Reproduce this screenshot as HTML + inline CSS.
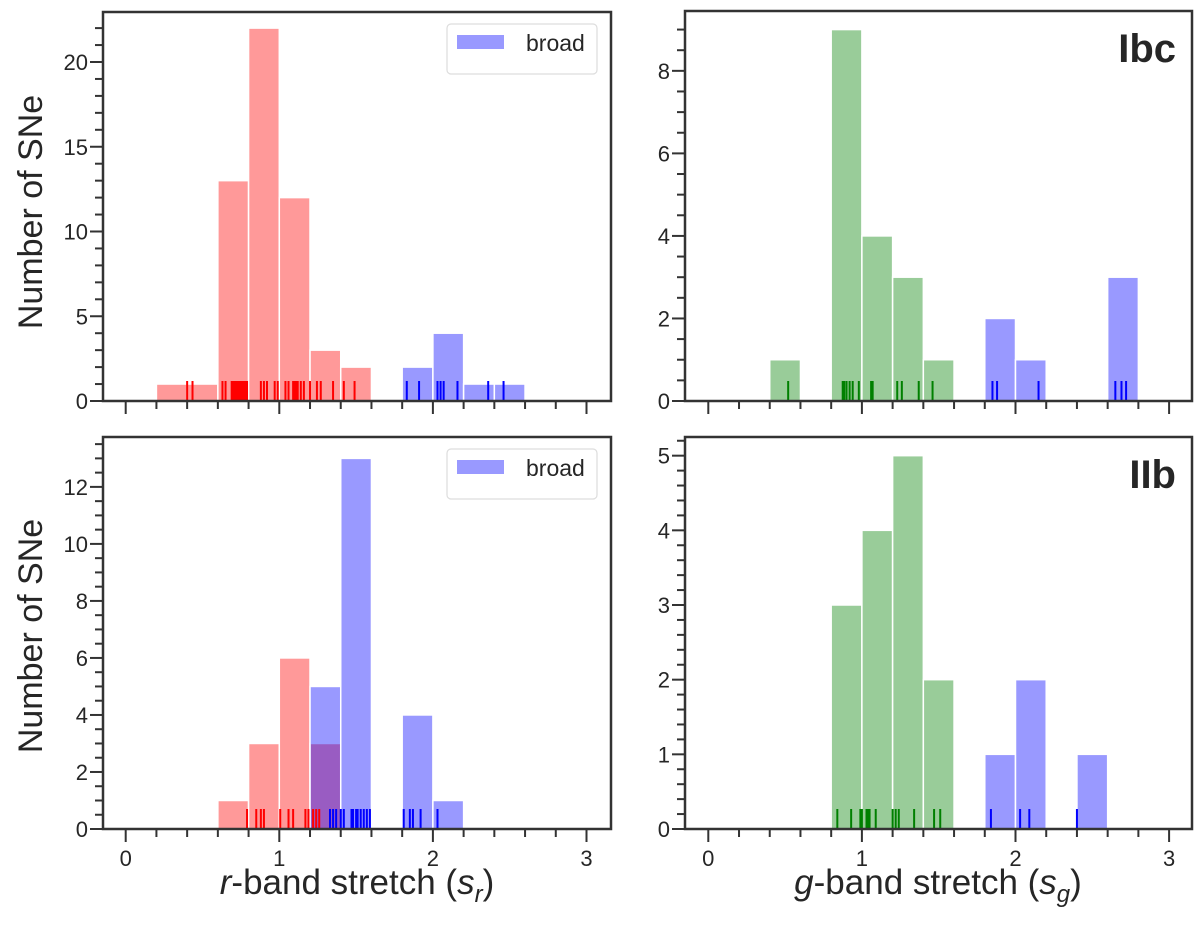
<!DOCTYPE html>
<html><head><meta charset="utf-8"><style>
body{margin:0;background:#fff}
svg{display:block;font-family:"Liberation Sans",Arial,sans-serif}
</style></head><body>
<svg id="fig" width="1200" height="925" viewBox="0 0 1200 925" xmlns="http://www.w3.org/2000/svg">
<text transform="translate(42,212) rotate(-90)" text-anchor="middle" font-size="34" fill="#262626">Number of SNe</text>
<text transform="translate(42,636) rotate(-90)" text-anchor="middle" font-size="34" fill="#262626">Number of SNe</text>
<text x="357" y="894" text-anchor="middle" font-size="35" fill="#262626"><tspan font-style="italic">r</tspan>-band stretch (<tspan font-style="italic">s</tspan><tspan font-style="italic" font-size="24" dy="8">r</tspan><tspan dy="-8">)</tspan></text>
<text x="938" y="894" text-anchor="middle" font-size="35" fill="#262626"><tspan font-style="italic">g</tspan>-band stretch (<tspan font-style="italic">s</tspan><tspan font-style="italic" font-size="24" dy="8">g</tspan><tspan dy="-8">)</tspan></text>
</svg>
<script>
// Bins: left edges, width 0.2
const tlRedBins=[0.2,0.4,0.6,0.8,1.0,1.2,1.4];
const tlRedCounts=[1,1,13,22,12,3,2];
const tlBlueBins=[1.8,2.0,2.2,2.4];
const tlBlueCounts=[2,4,1,1];
const tlRedRug=[0.40,0.435,0.63,0.65,0.69,0.70,0.71,0.72,0.73,0.74,0.75,0.76,0.77,0.78,0.79,0.88,0.90,0.92,0.97,0.99,1.04,1.06,1.09,1.10,1.11,1.12,1.14,1.16,1.20,1.245,1.27,1.35,1.42,1.49];
const tlBlueRug=[1.83,1.91,2.03,2.05,2.07,2.16,2.36,2.46];

const trGreenBins=[0.4,0.8,1.0,1.2,1.4];
const trGreenCounts=[1,9,4,3,1];
const trBlueBins=[1.8,2.0,2.6];
const trBlueCounts=[2,1,3];
const trGreenRug=[0.52,0.875,0.885,0.90,0.92,0.94,0.98,1.06,1.07,1.23,1.26,1.37,1.46];
const trBlueRug=[1.85,1.88,2.15,2.65,2.69,2.72];

const blRedBins=[0.6,0.8,1.0,1.2];
const blRedCounts=[1,3,6,3];
const blBlueBins=[1.2,1.4,1.8,2.0];
const blBlueCounts=[5,13,4,1];
const blRedRug=[0.79,0.85,0.88,0.90,1.006,1.06,1.09,1.17,1.19,1.22,1.24,1.26];
const blBlueRug=[1.33,1.35,1.37,1.40,1.42,1.47,1.48,1.50,1.51,1.53,1.55,1.57,1.59,1.81,1.85,1.87,1.92,2.03];

const brGreenBins=[0.8,1.0,1.2,1.4];
const brGreenCounts=[3,4,5,2];
const brBlueBins=[1.8,2.0,2.4];
const brBlueCounts=[1,2,1];
const brGreenRug=[0.84,0.93,0.99,1.00,1.03,1.04,1.05,1.09,1.20,1.22,1.24,1.34,1.47,1.51];
const brBlueRug=[1.84,2.03,2.09,2.40];

const tlYTicks=[0,5,10,15,20];
const trYTicks=[0,2,4,6,8];
const blYTicks=[0,2,4,6,8,10,12];
const brYTicks=[0,1,2,3,4,5];
const xTicks=[0,1,2,3];

const NS="http://www.w3.org/2000/svg";
const svg=document.getElementById('fig');
function mk(tag,attrs,parent){const e=document.createElementNS(NS,tag);for(const k in attrs)e.setAttribute(k,attrs[k]);(parent||svg).appendChild(e);return e;}

function panel(p){
  const g=mk('g',{});
  
  
  const sx=v=>p.zeroX+v*153.6;
  const sy=v=>p.bottom-(v/p.ymax)*(p.bottom-p.top);
  function bars(bins,counts,color,nm){
    bins.forEach((b,i)=>{
      const x1=sx(b),x2=sx(b+0.2),y=sy(counts[i]);
      const r=mk('rect',{x:x1,y:y,width:x2-x1,height:p.bottom-y,fill:color,'fill-opacity':0.4,stroke:'#fff','stroke-width':1.5},g);
      
      
    });
  }
  function rug(vals,color,nm){
    vals.forEach(v=>{
      const l=mk('line',{x1:sx(v),x2:sx(v),y1:p.bottom,y2:p.bottom-20,stroke:color,'stroke-width':2},g);
      
      
    });
  }
  p.series.forEach(s=>bars(s.bins,s.counts,s.color,s.nm));
  p.rugs.forEach(s=>rug(s.vals,s.color,s.nm));
  mk('line',{x1:sx(0),x2:sx(3),y1:p.bottom-0.5,y2:p.bottom-0.5,stroke:'#262626','stroke-width':1},g);
  const fr=mk('rect',{x:p.left,y:p.top,width:p.right-p.left,height:p.bottom-p.top,fill:'none',stroke:'#333','stroke-width':2.5},g);
  
  
  for(let v=0;v<=p.ymax+1e-9;v+=p.yminor){
    const major=p.yTicks.some(t=>Math.abs(t-v)<1e-6);
    mk('line',{x1:p.left-(major?13:8),x2:p.left,y1:sy(v),y2:sy(v),stroke:'#333','stroke-width':2},g);
  }
  p.yTicks.forEach(t=>{
    const tx=mk('text',{x:p.left-15,y:sy(t)+8,'text-anchor':'end','font-size':22,fill:'#262626'},g);
    tx.textContent=t;
    
    
  });
  for(let i=-1;i<=15;i++){
    const v=i*0.2;const x=sx(v);
    if(x<p.left+2||x>p.right-2)continue;
    const major=(i%5===0);
    mk('line',{x1:x,x2:x,y1:p.bottom,y2:p.bottom+(major?13:8),stroke:'#333','stroke-width':2},g);
  }
  if(p.xlabels){
    xTicks.forEach(t=>{
      const tx=mk('text',{x:sx(t),y:p.bottom+37,'text-anchor':'middle','font-size':22,fill:'#262626'},g);
      tx.textContent=t;
      
      
    });
  }
  if(p.legend){
    const lg=mk('g',{},g);
    
    
    mk('rect',{x:p.right-164,y:p.top+12,width:150,height:50,rx:4,fill:'#fff',stroke:'#ddd','stroke-width':1.2},lg);
    mk('rect',{x:p.right-154,y:p.top+23,width:47,height:14,fill:'#0000ff','fill-opacity':0.4},lg);
    const t=mk('text',{x:p.right-85,y:p.top+39,'font-size':23,fill:'#262626'},lg);
    t.textContent='broad';
    
    
  }
  if(p.title){
    const t=mk('text',{x:p.right-16,y:p.top+51,'text-anchor':'end','font-size':40,'font-weight':'bold',fill:'#262626'},g);
    t.textContent=p.title;
    
    
  }
}

panel({name:'panel-r-band-ibc',left:103,right:611,top:12,bottom:401,zeroX:125.7,ymax:22.95,yTicks:tlYTicks,yminor:1,legend:true,
  series:[{bins:tlRedBins,counts:tlRedCounts,color:'#ff0000',nm:'red'},{bins:tlBlueBins,counts:tlBlueCounts,color:'#0000ff',nm:'broad'}],
  rugs:[{vals:tlRedRug,color:'#ff0000',nm:'red'},{vals:tlBlueRug,color:'#0000ff',nm:'broad'}]});
panel({name:'panel-g-band-ibc',left:685,right:1192,top:11,bottom:401,zeroX:708.3,ymax:9.45,yTicks:trYTicks,yminor:0.5,title:'Ibc',
  series:[{bins:trGreenBins,counts:trGreenCounts,color:'#008000',nm:'green'},{bins:trBlueBins,counts:trBlueCounts,color:'#0000ff',nm:'broad'}],
  rugs:[{vals:trGreenRug,color:'#008000',nm:'green'},{vals:trBlueRug,color:'#0000ff',nm:'broad'}]});
panel({name:'panel-r-band-iib',left:103,right:611,top:437,bottom:829,zeroX:125.7,ymax:13.75,yTicks:blYTicks,yminor:0.5,legend:true,xlabels:true,
  series:[{bins:blRedBins,counts:blRedCounts,color:'#ff0000',nm:'red'},{bins:blBlueBins,counts:blBlueCounts,color:'#0000ff',nm:'broad'}],
  rugs:[{vals:blRedRug,color:'#ff0000',nm:'red'},{vals:blBlueRug,color:'#0000ff',nm:'broad'}]});
panel({name:'panel-g-band-iib',left:685,right:1192,top:437,bottom:829,zeroX:708.3,ymax:5.25,yTicks:brYTicks,yminor:0.2,title:'IIb',xlabels:true,
  series:[{bins:brGreenBins,counts:brGreenCounts,color:'#008000',nm:'green'},{bins:brBlueBins,counts:brBlueCounts,color:'#0000ff',nm:'broad'}],
  rugs:[{vals:brGreenRug,color:'#008000',nm:'green'},{vals:brBlueRug,color:'#0000ff',nm:'broad'}]});
</script>
</body></html>
